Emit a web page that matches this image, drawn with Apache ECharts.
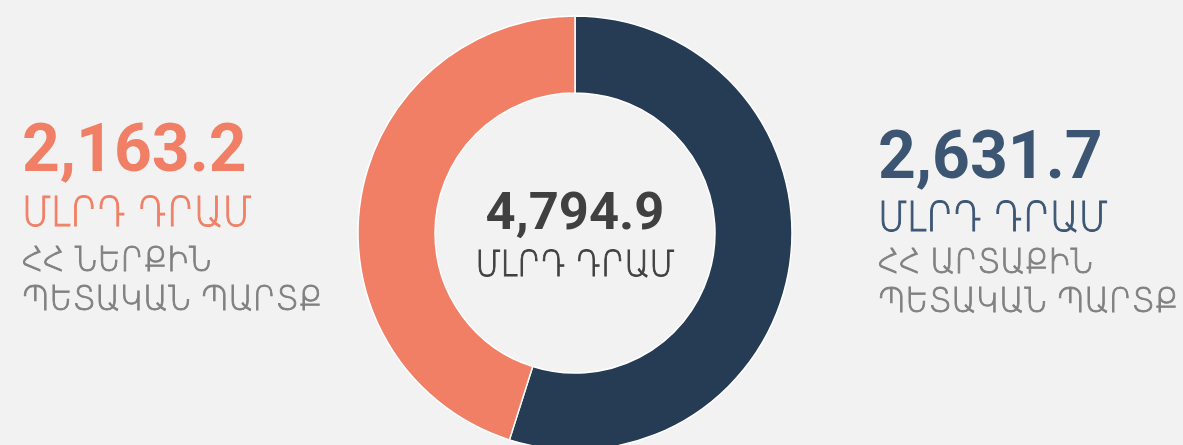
<!DOCTYPE html>
<html>
<head>
<meta charset="utf-8">
<script src="https://cdn.jsdelivr.net/npm/echarts@6/dist/echarts.min.js"></script>
<style>
  html, body { margin: 0; padding: 0; background: #f2f2f2; }
  #chart { width: 1183px; height: 445px; }
</style>
</head>
<body>
<div id="chart"></div>
<script>
// Public debt of Armenia, billion AMD
const categories = ['ՀՀ ԱՐՏԱՔԻՆ ՊԵՏԱԿԱՆ ՊԱՐՏՔ', 'ՀՀ ՆԵՐՔԻՆ ՊԵՏԱԿԱՆ ՊԱՐՏՔ'];
const values = [2631.7, 2163.2];
const totalValue = 4794.9;
const unitLabel = 'ՄԼՐԴ ԴՐԱՄ';
const descLines = [
  ['ՀՀ ԱՐՏԱՔԻՆ', 'ՊԵՏԱԿԱՆ ՊԱՐՏՔ'],
  ['ՀՀ ՆԵՐՔԻՆ', 'ՊԵՏԱԿԱՆ ՊԱՐՏՔ']
];

const sliceColors = ['#263c55', '#f07f65'];
const numberColors = ['#3b5572', '#f07f65'];
const grey = '#808080';
const centerColor = '#404040';
const numFont = 'Roboto, "Liberation Sans", sans-serif';
const armFont = '"DejaVu Sans", sans-serif';

const fmt = v => v.toLocaleString('en-US', { minimumFractionDigits: 1, maximumFractionDigits: 1 });

// Bold figure
function numText(x, y, text, size, color, align) {
  return { type: 'text', x, y, style: { x: 0, y: 0, text, fill: color,
    font: `bold ${size}px ${numFont}`, align: align || 'left', verticalAlign: 'middle' } };
}
// Armenian caption: light face, slightly thickened and stretched vertically
function armText(x, y, text, size, color, align, sy) {
  return { type: 'text', x, y, scaleY: sy, style: { x: 0, y: 0, text, fill: color,
    stroke: color, lineWidth: 0.9,
    font: `200 ${size}px ${armFont}`, align: align || 'left', verticalAlign: 'middle' } };
}

function sideBlock(i, x, yNum, yUnit, yDesc) {
  const c = numberColors[i];
  return [
    numText(x, yNum, fmt(values[i]), 66, c),
    armText(x, yUnit, unitLabel, 36.5, c, 'left', 1.12),
    armText(x, yDesc, descLines[i][0], 31, grey, 'left', 1.1),
    armText(x, yDesc + 39, descLines[i][1], 31, grey, 'left', 1.1)
  ];
}

const chart = echarts.init(document.getElementById('chart'));
chart.setOption({
  backgroundColor: '#f2f2f2',
  animation: false,
  series: [{
    type: 'pie',
    center: [575, 233],
    radius: [140, 217],
    startAngle: 90,
    clockwise: true,
    silent: true,
    label: { show: false },
    labelLine: { show: false },
    itemStyle: { borderColor: '#ffffff', borderWidth: 1.5 },
    data: categories.map((name, i) => ({
      name, value: values[i], itemStyle: { color: sliceColors[i] }
    }))
  }],
  graphic: [
    ...sideBlock(1, 22, 154, 215.5, 262.5),
    ...sideBlock(0, 878, 161, 220, 264.5),
    numText(575, 216, fmt(totalValue), 52.5, centerColor, 'center'),
    armText(575, 267, unitLabel, 31.6, centerColor, 'center', 1.15)
  ]
});
</script>
</body>
</html>
